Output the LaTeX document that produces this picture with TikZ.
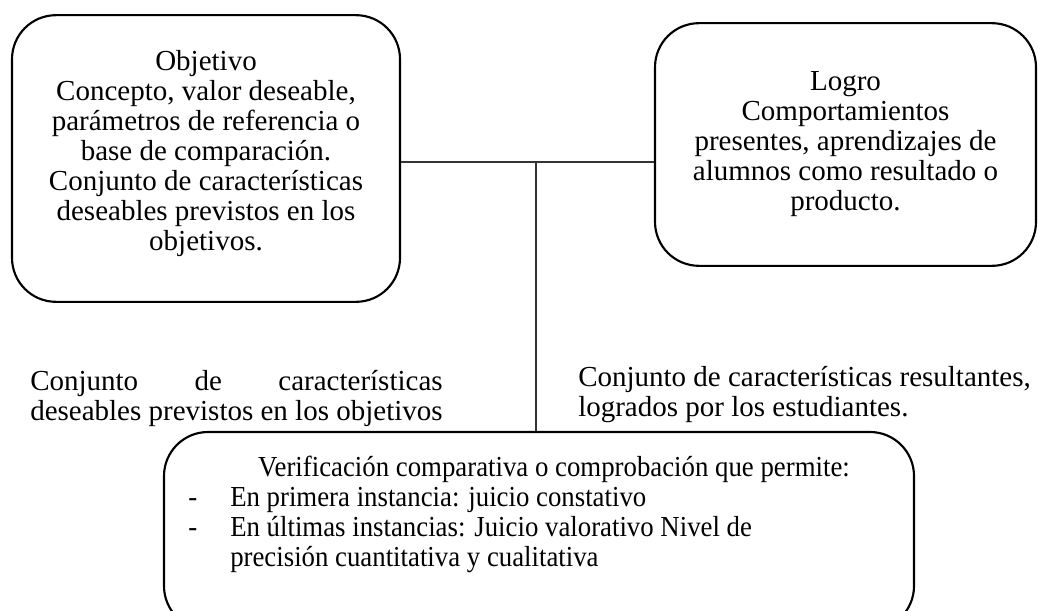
\documentclass[tikz,border=0pt]{standalone}
\usepackage{graphicx}
\usepackage{fontspec}
\setmainfont{Liberation Serif}
\newlength\lwid
\begin{document}
\begin{tikzpicture}[x=0.75pt,y=-0.75pt,
  box/.style={draw=black, line width=1.6pt, rounded corners=33pt, inner sep=0pt},
  conn/.style={draw=black!80, line width=0.9pt},
  txt/.style={font=\fontsize{21.75}{22.5}\selectfont, inner sep=0pt}]
\useasboundingbox (0,0) rectangle (1038,610);
\begin{scope}
\clip (0,0) rectangle (1038,610);
% boxes
\node[box, minimum width=291pt, minimum height=215pt] (lb) at (206,158.5) {};
\node[box, minimum width=285.75pt, minimum height=182pt] (rb) at (845.5,144.5) {};
\node[box, minimum width=562.5pt, minimum height=148.5pt] (bb) at (539,531) {};
\end{scope}
% box texts
\node[txt, align=center] (lbt) at (206,154) {Objetivo\\Concepto, valor deseable,\\parámetros de referencia o\\base de comparación.\\Conjunto de características\\deseables previstos en los\\objetivos.};
\node[txt, align=center] (rbt) at (rb.center) {Logro\\Comportamientos\\presentes, aprendizajes de\\alumnos como resultado o\\producto.};
\node[txt, anchor=north west] (bbt) at (188,455) {\scalebox{0.924}[1]{\begin{tabular}{@{}l@{}}
\hspace*{56.8pt}Verificación comparativa o comprobación que permite:\\
\makebox[34.1pt][l]{-}En primera instancia: juicio constativo\\
\makebox[34.1pt][l]{-}En últimas instancias: Juicio valorativo Nivel de\\
\hspace*{34.1pt}precisión cuantitativa y cualitativa
\end{tabular}}};
% free texts
\node[txt, align=left, anchor=north west] (lt) at (30,370) {\settowidth{\lwid}{deseables previstos en los objetivos}\makebox[\lwid][s]{Conjunto de características}\\deseables previstos en los objetivos};
\node[txt, align=left, anchor=north west] (rt) at (578,366) {Conjunto de características resultantes,\\logrados por los estudiantes.};
% connectors
\coordinate (hj) at (536,162);
\draw[conn] (lb.east |- hj) -- (rb.west |- hj);
\draw[conn] (hj) -- (bb.north -| hj);
\end{tikzpicture}
\end{document}
